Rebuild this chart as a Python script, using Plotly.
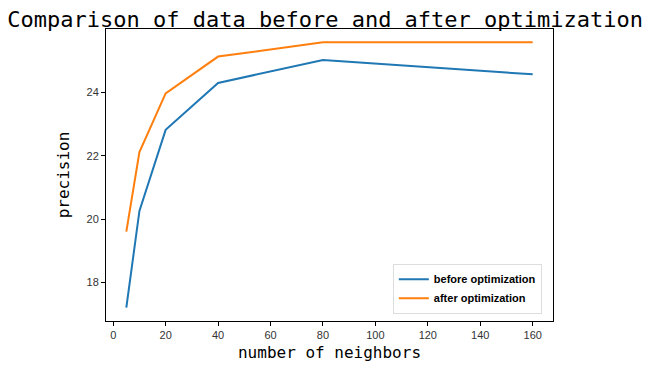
import plotly.graph_objects as go

neighbors = [5, 10, 20, 40, 80, 160]
before_opt = [17.21, 20.26, 22.82, 24.30, 25.02, 24.57]
after_opt = [19.61, 22.12, 23.97, 25.13, 25.58, 25.58]
x_ticks = [0, 20, 40, 60, 80, 100, 120, 140, 160]
y_ticks = [18, 20, 22, 24]

fig = go.Figure()
fig.add_trace(go.Scatter(x=neighbors, y=before_opt, mode="lines", name="before optimization",
                         line=dict(color="#1f77b4", width=2)))
fig.add_trace(go.Scatter(x=neighbors, y=after_opt, mode="lines", name="after optimization",
                         line=dict(color="#ff7f0e", width=2)))

axis_common = dict(showgrid=False, zeroline=False, showline=True, linecolor="black", linewidth=1,
                   mirror=True, ticks="outside", ticklen=4, tickcolor="black",
                   tickfont=dict(family="Liberation Sans Narrow, Arial Narrow, Liberation Sans, Arial",
                                 size=11, color="#333333"))

fig.update_layout(
    width=642, height=362,
    paper_bgcolor="white", plot_bgcolor="white",
    margin=dict(l=98, r=97, t=21, b=49),
    title=dict(text="Comparison of data before and after optimization", x=0.494, xanchor="center",
               y=0.99, yanchor="top",
               font=dict(family="DejaVu Sans Mono, Liberation Mono, monospace", size=22, color="black")),
    xaxis=dict(range=[-2.75, 167.75], tickvals=x_ticks,
               title=dict(text="number of neighbors", standoff=6,
                          font=dict(family="DejaVu Sans Mono, Liberation Mono, monospace", size=16, color="black")),
               **axis_common),
    yaxis=dict(range=[16.79, 26.0], tickvals=y_ticks,
               title=dict(text="precision", standoff=12,
                          font=dict(family="DejaVu Sans Mono, Liberation Mono, monospace", size=16, color="black")),
               **axis_common),
    legend=dict(x=0.975, y=0.025, xanchor="right", yanchor="bottom",
                bgcolor="rgba(255,255,255,0.8)", bordercolor="#dddddd", borderwidth=1,
                font=dict(family="Liberation Sans, Arial", size=11, color="black", weight="bold"),
                itemwidth=30, tracegroupgap=0),
    showlegend=True,
)

fig.write_html("out.html")
